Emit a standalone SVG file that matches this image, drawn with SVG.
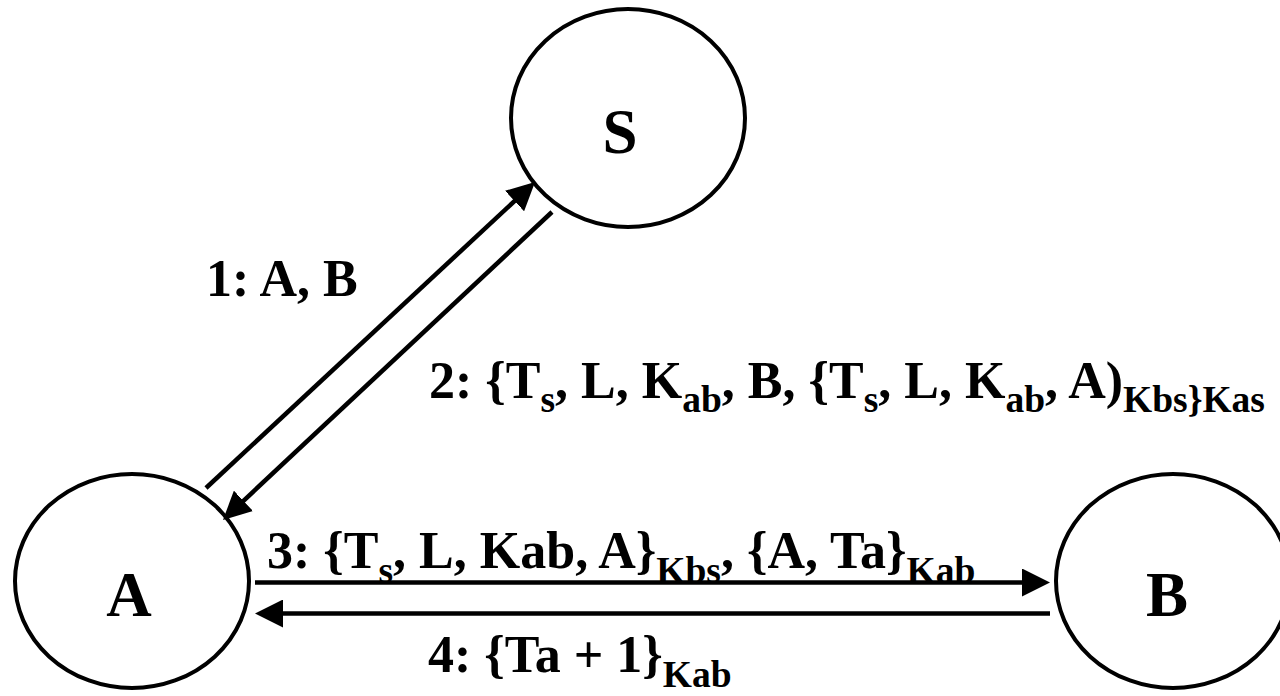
<svg xmlns="http://www.w3.org/2000/svg" width="1280" height="696" viewBox="0 0 1280 696">
<style>
.node{fill:#fff;stroke:#000;stroke-width:4}
.ntext{font-family:"Liberation Serif","Times New Roman",serif;font-weight:bold;font-size:63px;text-anchor:middle;fill:#000}
.conn{stroke:#000;stroke-width:4.5;fill:none}
.lbl{font-family:"Liberation Serif","Times New Roman",serif;font-weight:bold;font-size:52px;fill:#000}
.sub{font-size:37.5px}
</style>
<defs>
<marker id="ah" markerUnits="userSpaceOnUse" markerWidth="28" markerHeight="28" refX="8" refY="14" orient="auto">
<path d="M0,0 L28,14 L0,28 z" fill="#000"/>
</marker>
</defs>
<rect width="1280" height="696" fill="#fff"/>
<g id="node-S">
<ellipse class="node" cx="628" cy="118" rx="117" ry="109"/>
<text class="ntext" x="620" y="153">S</text>
</g>
<g id="node-A">
<ellipse class="node" cx="132" cy="581" rx="117" ry="107"/>
<text class="ntext" x="129" y="616">A</text>
</g>
<g id="node-B">
<ellipse class="node" cx="1173" cy="581" rx="117" ry="107"/>
<text class="ntext" x="1167" y="616">B</text>
</g>
<g id="connectors">
<line class="conn" x1="206" y1="488" x2="520.4" y2="195.6" marker-end="url(#ah)"/>
<line class="conn" x1="552" y1="212" x2="237.6" y2="506.3" marker-end="url(#ah)"/>
<line class="conn" x1="255" y1="582.5" x2="1030" y2="582.5" marker-end="url(#ah)"/>
<line class="conn" x1="1050" y1="613.5" x2="275" y2="613.5" marker-end="url(#ah)"/>
</g>
<g id="labels">
<text class="lbl" x="206" y="296">1: A, B</text>
<text class="lbl" x="429" y="398">2: {T<tspan class="sub" dy="14">s</tspan><tspan dy="-14">, L, K</tspan><tspan class="sub" dy="14">ab</tspan><tspan dy="-14">, B, {T</tspan><tspan class="sub" dy="14">s</tspan><tspan dy="-14">, L, K</tspan><tspan class="sub" dy="14">ab</tspan><tspan dy="-14">, A)</tspan><tspan class="sub" dy="14">Kbs}Kas</tspan></text>
<text class="lbl" x="267" y="568">3: {T<tspan class="sub" dy="15">s</tspan><tspan dy="-15">, L, Kab, A}</tspan><tspan class="sub" dy="15">Kbs</tspan><tspan dy="-15">, {A, Ta}</tspan><tspan class="sub" dy="15">Kab</tspan></text>
<text class="lbl" x="428" y="672">4: {Ta + 1}<tspan class="sub" dy="15">Kab</tspan></text>
</g>
</svg>
